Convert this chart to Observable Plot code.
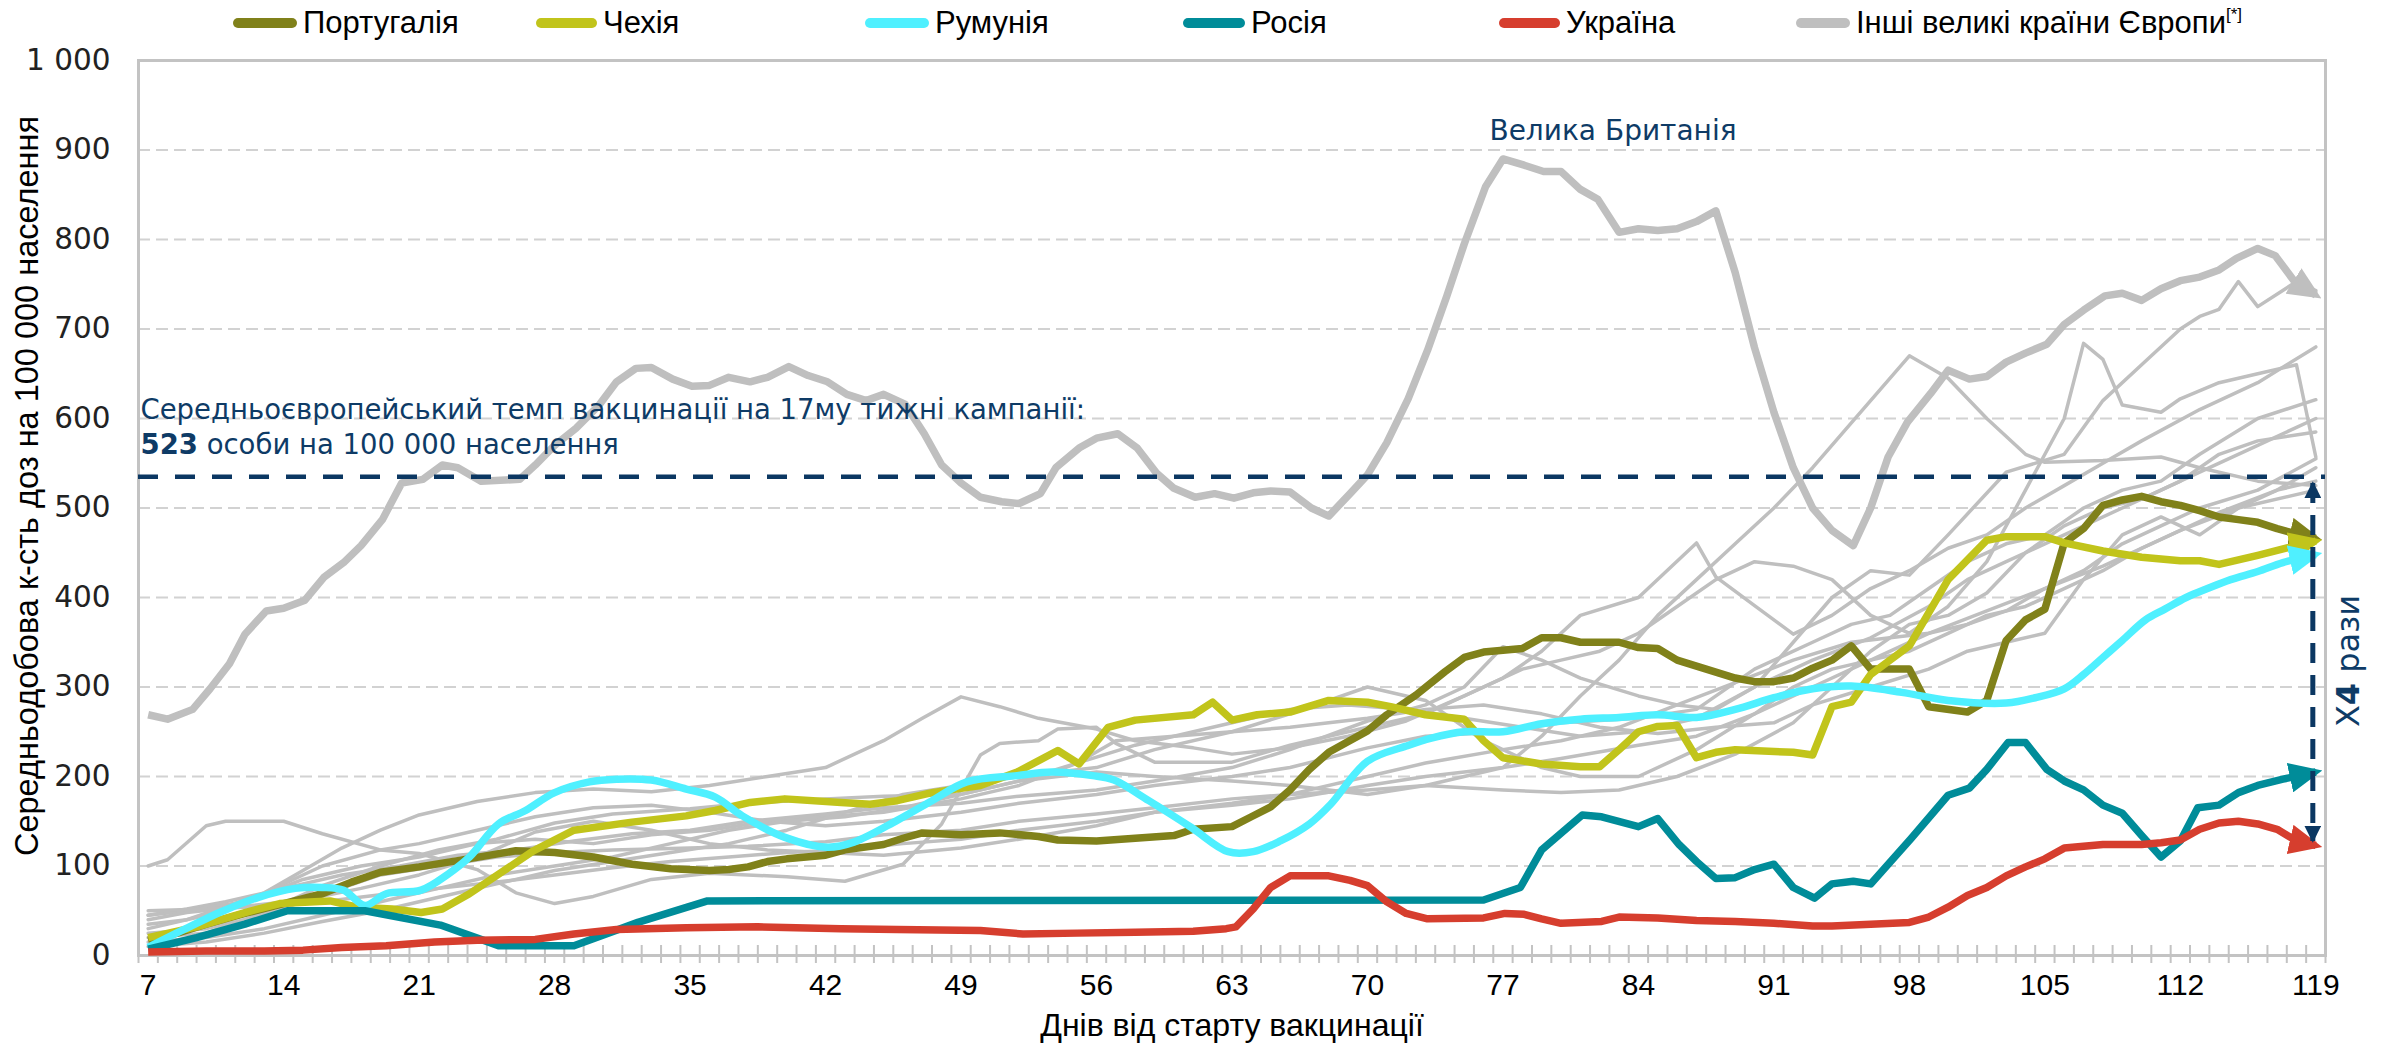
<!DOCTYPE html>
<html><head><meta charset="utf-8">
<script src="https://cdn.jsdelivr.net/npm/d3@7"></script>
<script src="https://cdn.jsdelivr.net/npm/@observablehq/plot@0.6"></script>
<style>
body{margin:0;background:#fff;}
#legend{position:relative;height:46px;width:2387px;font-family:"Liberation Sans",Arial,sans-serif;font-size:31px;color:#000;}
.item{position:absolute;top:0;height:46px;display:flex;align-items:center;white-space:nowrap;}
.sw{display:inline-block;height:10px;border-radius:5px;margin-right:6px;}
sup{font-size:0.55em;vertical-align:0.75em;}
#chart svg{display:block;}
</style></head><body>
<div id="legend"></div>
<div id="chart"></div>
<script>
// ---------- data (day, doses per 100k, 7-day average) ----------
const portugal = [[7,17],[8.5,25],[10,35],[12,47],[14,58],[16,69],[17.5,82],[19,93],[21,99],[23,106],[26,117],[28,115],[30,110],[32,102],[34,97],[36,95],[37,96],[38,99],[39,105],[40,108],[42,112],[43,118],[45,124],[46,131],[47,137],[49,135],[51,137],[53,133],[54,129],[56,128],[58,131],[60,134],[61,141],[63,144],[64,155],[65,166],[66,185],[67,208],[68,227],[70,251],[71,269],[72.5,291],[74,317],[75,333],[76,339],[78,343],[79,355],[80,355],[81,350],[83,350],[84,344],[85,343],[86,330],[87.5,320],[89,310],[90,306],[91,306],[92,310],[93,321],[94,330],[95,346],[96,320],[98,320],[99,278],[101,272],[102,285],[103,352],[104,375],[105,387],[106,461],[107,477],[108,503],[109,509],[110,513],[111,507],[112,503],[113,497],[114,490],[115,487],[116,484],[117,477],[118,471],[119,466]];
const czechia = [[7,20],[9.5,32],[12,48],[13.8,58],[15.6,60],[16.4,61],[17.8,54],[19.6,52],[21.1,48],[22.2,52],[23.6,69],[25.4,95],[26.9,117],[29,140],[32,149],[34.8,156],[36.3,162],[38.1,171],[39.9,175],[42.8,171],[44.3,169],[45.7,173],[47.5,182],[50,190],[51.9,205],[54,229],[55.1,214],[56.6,255],[58,263],[61,269],[62,283],[63,263],[64.3,269],[66,272],[68,285],[70,283],[71.2,278],[73,269],[75,264],[76,240],[77,221],[79,214],[81,211],[82,211],[83,230],[84,250],[85,256],[86,257],[87,221],[88,227],[89,230],[92,227],[93,224],[94,278],[95,283],[96,314],[98,346],[100,420],[101,442],[102,464],[103,468],[105,468],[106,461],[108,452],[110,445],[112,441],[113,441],[114,437],[116,447],[118,458],[119,463]];
const romania = [[7,9],[8.75,28],[10.9,50],[12.7,65],[14.6,75],[16,76],[17.1,73],[18.2,56],[19.3,69],[21.1,73],[22.5,91],[23.6,110],[25.1,147],[26.5,162],[28,182],[29.8,194],[31.2,197],[33,196],[34.8,186],[36.3,177],[37.7,156],[39.9,132],[42.1,121],[43.5,127],[45.7,151],[47.5,173],[49.3,194],[51.9,201],[53.7,205],[55.8,201],[56.9,196],[58.7,173],[60.9,143],[62.8,116],[64.1,116],[65.5,128],[67,147],[68.1,169],[70,217],[72,234],[73.3,243],[75,250],[77,250],[79,259],[81,264],[83,266],[85,269],[87,266],[89,275],[91,288],[93,298],[95,301],[97.6,294],[100,285],[103,282],[104.5,288],[106,298],[107,314],[108,333],[109,352],[110.2,375],[111.2,387],[112.3,400],[113.4,410],[114.6,420],[116,429],[117.3,439],[119,448]];
const russia = [[7,7],[9.5,20],[12,35],[14.2,50],[18.2,50],[22.1,34],[25.1,11],[29,11],[32.3,37],[35.9,61],[76,62],[77.9,76],[79,118],[81.1,157],[82.1,155],[84,144],[85,153],[86.1,124],[87,105],[88,86],[89,87],[90,96],[91,102],[92,76],[93.1,64],[94,80],[95.1,83],[96,80],[98.1,131],[100,179],[101.1,187],[102,208],[103.1,238],[104,238],[105.1,208],[106,195],[107,185],[108,168],[109,159],[110,134],[111,110],[112,128],[112.9,165],[114,168],[115,182],[116,190],[117.3,197],[119,205]];
const ukraine = [[7,4],[10,5],[13,5],[15,6],[17,9],[19.3,11],[21.8,15],[24,17],[27,18],[29,24],[31.2,29],[34.8,31],[38.5,32],[42.8,30],[45.7,29],[50,28],[52.2,24],[55,25],[58,26],[61,27],[62.7,30],[63.2,32],[64.1,52],[65,76],[66,89],[68,89],[69.1,84],[70,78],[71,60],[72,47],[73.1,41],[76,42],[77.1,47],[78.1,46],[79,41],[80,36],[82.1,38],[83,43],[85,42],[87,39],[89,38],[91,36],[93,33],[94,33],[96,35],[98,37],[99,43],[100,54],[101,67],[102,76],[103,89],[104,99],[105,108],[106,120],[108,124],[110,124],[111,126],[112,129],[113,141],[114,148],[115,150],[116,147],[117,141],[118,128],[119,123]];
const greatBritain = [[7,269],[8,264],[9.3,275],[10.2,298],[11.2,326],[12,359],[13.1,385],[14,388],[15.1,397],[16.1,423],[17.1,439],[18,458],[19.1,487],[20.1,528],[21.2,532],[22.2,548],[23,545],[24.2,530],[26.2,532],[27,548],[28,570],[29.1,589],[30.3,615],[31.2,641],[32.2,656],[33,657],[34.1,644],[35.1,636],[36,637],[37,646],[38.1,641],[39,646],[40.1,658],[41.1,648],[42.1,641],[43.1,627],[44.1,620],[45,627],[46.1,616],[47.1,583],[48,548],[49,528],[50,512],[51.1,507],[52,505],[53.1,516],[53.9,545],[55.1,567],[56,578],[57.1,583],[58.1,567],[59.1,539],[60,522],[61.1,512],[62.1,516],[63.1,511],[64.1,517],[65,519],[66,518],[67.1,500],[68,491],[69.1,516],[70,537],[71,573],[72.1,622],[73.1,676],[74.1,737],[75,795],[76.1,859],[77,890],[78.1,883],[79.1,876],[80,876],[81,856],[81.9,845],[83,808],[84,812],[85,810],[86,812],[87,820],[88,832],[89,763],[90,679],[91,607],[92,545],[93,500],[94,475],[95.1,458],[96,500],[96.9,557],[97.9,596],[99.1,628],[100,654],[101.1,644],[102,647],[103,663],[104,673],[105.1,683],[106,705],[107,721],[108.1,737],[109,740],[110,732],[111,745],[112,754],[113,758],[114,766],[114.9,779],[116,790],[116.9,782],[117.9,753],[119,738]];
// other large European countries (thin grey)
const otherA = [[7,45],[9,52],[11,60],[13,70],[15,95],[17,120],[19,140],[21,157],[24,172],[27,182],[30,186],[33,183],[36,190],[39,200],[42,210],[45,240],[47,265],[49,289],[51,278],[53,265],[56,253],[58,240],[61,232],[63,225],[66,232],[69,245],[72,262],[75,290],[77,310],[79,340],[81,380],[84,400],[87,461],[88,423],[90,391],[92,359],[94,380],[96,410],[98,430],[100,455],[102,470],[104,500],[106,525],[108,550],[110,575],[113,610],[116,640],[119,680]];
const otherB = [[7,20],[10,25],[13,48],[16,78],[19,100],[22,118],[25,130],[28,148],[31,158],[35,164],[38,170],[42,175],[45,178],[49,180],[52,195],[56,205],[59,200],[63,195],[66,190],[70,180],[73,190],[77,210],[79,245],[81,290],[83,330],[85,380],[87,420],[89,460],[91,500],[93,545],[95,595],[98,670],[100,645],[102,600],[104,560],[105,551],[108,553],[111,557],[113,545],[116,530],[119,525]];
const otherC = [[7,100],[8,107],[10,145],[11,150],[14,150],[16,136],[19,118],[21,114],[24,96],[26,70],[28,58],[30,66],[33,85],[36,92],[40,88],[43,83],[46,102],[48,147],[50,224],[51,237],[53,240],[54,253],[56,255],[57,237],[59,216],[63,216],[66,235],[70,255],[73,270],[76,300],[78,320],[80,330],[82,340],[84,360],[86,390],[88,420],[90,440],[92,435],[94,420],[96,380],[98,360],[100,390],[102,440],[104,520],[106,600],[107,684],[108,666],[109,615],[111,607],[112,622],[114,640],[116,650],[118,660],[119,557]];
const otherD = [[7,35],[9,40],[12,62],[14,75],[17,90],[20,100],[23,112],[26,118],[29,128],[32,136],[35,140],[38,150],[42,158],[45,165],[49,170],[52,178],[56,185],[59,195],[63,210],[66,230],[70,262],[73,280],[75,300],[77,345],[79,330],[81,310],[84,290],[86,280],[88,275],[90,300],[92,350],[94,400],[96,430],[98,425],[100,470],[103,540],[106,560],[108,620],[110,660],[112,700],[113,714],[114,722],[115,753],[116,725],[118,753],[119,743]];
const otherE = [[7,30],[10,45],[13,70],[16,100],[19,118],[21,125],[24,140],[27,155],[30,165],[33,168],[36,160],[39,150],[42,145],[45,150],[49,160],[52,170],[56,180],[59,190],[63,200],[66,210],[70,232],[73,245],[77,250],[80,260],[84,265],[87,275],[90,320],[93,350],[95,370],[97,380],[99,410],[101,440],[103,460],[105,470],[107,500],[109,520],[111,530],[113,560],[116,600],[119,621]];
const otherF = [[7,25],[10,30],[13,45],[16,68],[19,90],[22,100],[25,110],[28,115],[31,118],[35,120],[38,122],[42,127],[45,135],[49,140],[52,150],[56,158],[59,165],[63,175],[66,180],[70,185],[73,190],[77,185],[80,182],[83,185],[86,200],[89,225],[92,260],[94,300],[96,340],[98,370],[100,380],[102,405],[104,450],[106,480],[108,500],[110,510],[112,530],[114,560],[116,575],[119,585]];
const otherG = [[7,45],[9,50],[12,60],[15,85],[18,100],[21,110],[24,125],[27,130],[30,125],[33,135],[36,140],[39,150],[42,155],[45,160],[49,175],[52,190],[55,215],[57,240],[60,245],[63,250],[66,255],[70,265],[73,275],[76,280],[79,270],[82,255],[85,248],[88,255],[91,260],[93,280],[96,300],[99,320],[101,340],[103,350],[105,360],[107,420],[109,470],[111,490],[113,470],[115,500],[117,520],[119,530]];
const otherH = [[7,40],[9,48],[12,55],[15,62],[18,75],[21,90],[24,110],[27,138],[30,150],[33,140],[36,125],[39,118],[42,115],[45,112],[49,120],[52,130],[56,145],[59,160],[63,170],[66,180],[70,200],[73,215],[77,230],[80,240],[83,255],[86,280],[89,305],[92,330],[95,350],[97,355],[99,360],[101,370],[103,385],[105,410],[107,430],[109,460],[111,480],[113,500],[116,520],[119,555]];
const otherI = [[7,15],[10,20],[13,30],[16,45],[19,60],[22,75],[25,90],[28,100],[31,110],[34,125],[37,140],[40,150],[43,155],[46,165],[49,180],[52,195],[55,215],[58,235],[61,250],[63,260],[66,275],[69,280],[72,275],[75,265],[78,255],[81,245],[84,250],[87,265],[90,300],[93,330],[96,355],[99,390],[101,420],[103,440],[105,460],[107,480],[109,500],[111,520],[113,540],[116,570],[119,600]];
const otherJ = [[7,10],[10,15],[13,25],[16,38],[19,50],[22,65],[25,80],[28,95],[31,105],[34,115],[37,125],[40,140],[43,160],[46,180],[49,190],[52,200],[56,210],[59,230],[63,250],[66,270],[70,300],[73,285],[76,240],[79,210],[81,200],[84,200],[87,230],[90,270],[92,300],[94,320],[96,330],[98,340],[100,360],[102,380],[104,390],[106,410],[108,430],[110,455],[112,475],[115,500],[119,520]];
const otherK = [[7,50],[10,52],[13,55],[16,60],[19,68],[22,75],[25,82],[28,90],[31,98],[34,105],[37,110],[40,115],[43,118],[46,125],[49,130],[52,140],[56,150],[59,160],[63,168],[66,175],[70,190],[73,200],[77,210],[80,220],[84,235],[87,245],[90,270],[93,300],[96,330],[99,360],[102,385],[105,410],[108,435],[111,465],[114,495],[117,520],[119,545]];
const others = [otherA, otherB, otherC, otherD, otherE, otherF, otherG, otherH, otherI, otherJ, otherK];

const europeAverage = 535;            // dashed reference level
const xTicks = [7,14,21,28,35,42,49,56,63,70,77,84,91,98,105,112,119];
const yTicks = [0,100,200,300,400,500,600,700,800,900,1000];
const yTickLabels = ["0","100","200","300","400","500","600","700","800","900","1 000"];

const series = [
  {name:"Португалія", data:portugal, color:"#80811a"},
  {name:"Чехія", data:czechia, color:"#c1c41b"},
  {name:"Румунія", data:romania, color:"#4ff0ff", curve:"catmull-rom"},
  {name:"Росія", data:russia, color:"#008c99"},
  {name:"Україна", data:ukraine, color:"#d63e2e"}
];
const GREY = "#bfbfbf", NAVY = "#0b3762";

// ---------- legend ----------
const legendItems = [
  {label:"Португалія", color:"#80811a", left:233, w:64},
  {label:"Чехія", color:"#c1c41b", left:536, w:61},
  {label:"Румунія", color:"#4ff0ff", left:865, w:64},
  {label:"Росія", color:"#008c99", left:1183, w:62},
  {label:"Україна", color:"#d63e2e", left:1499, w:61},
  {label:"Інші великі країни Європи<sup>[*]</sup>", color:GREY, left:1796, w:54}
];
const lg = document.getElementById("legend");
for (const it of legendItems) {
  const d = document.createElement("div");
  d.className = "item"; d.style.left = it.left + "px";
  d.innerHTML = `<span class="sw" style="width:${it.w}px;background:${it.color}"></span><span>${it.label}</span>`;
  lg.appendChild(d);
}

// ---------- chart ----------
const last = ukraine[ukraine.length-1];
const ukPeak = d3.greatest(greatBritain, d => d[1]);
const dayBounds = d3.range(xTicks[0]-0.5, xTicks[xTicks.length-1]+0.6, 1);
const px = d => d[0], py = d => d[1];

const marks = [
  Plot.ruleY(yTicks.slice(1,-1), {stroke:"#d2d2d2", strokeWidth:2, strokeDasharray:"12,6"}),
  Plot.frame({stroke:"#c3c3c3", strokeWidth:3}),
  Plot.ruleX(dayBounds, {stroke:"#c3c3c3", strokeWidth:2, insetTop:885, insetBottom:-8}),
  ...others.map(o => Plot.line(o, {x:px, y:py, stroke:GREY, strokeWidth:3.5})),
  Plot.line(greatBritain, {x:px, y:py, stroke:GREY, strokeWidth:7.5, strokeLinecap:"butt", markerEnd:"arrow"}),
  ...series.map(s => Plot.line(s.data, {x:px, y:py, stroke:s.color, strokeWidth:7.5, strokeLinecap:"butt", curve:s.curve || "linear", markerEnd:"arrow"})),
  Plot.ruleY([europeAverage], {stroke:NAVY, strokeWidth:4.5, strokeDasharray:"20,17"}),
  Plot.link([{x:last[0], y1:europeAverage-7, y2:last[1]+5}], {x1:"x", x2:"x", y1:"y1", y2:"y2", stroke:NAVY, strokeWidth:5, strokeDasharray:"20,12", markerStart:"arrow", markerEnd:"arrow", dx:-3}),
  // tick labels
  Plot.text(xTicks, {x:d=>d, frameAnchor:"bottom", dy:39, text:d=>String(d), fontSize:30, fill:"#000", fontFamily:"Liberation Sans, Arial, sans-serif"}),
  Plot.text(yTicks, {y:d=>d, frameAnchor:"left", dx:-28, textAnchor:"end", text:(d,i)=>yTickLabels[i], fontSize:29.5, fill:"#222", fontFamily:"DejaVu Sans, sans-serif"}),
  // axis titles
  Plot.text(["Днів від старту вакцинації"], {frameAnchor:"bottom", dy:80, fontSize:32, fill:"#000", fontFamily:"Liberation Sans, Arial, sans-serif"}),
  Plot.text(["Середньодобова к-сть доз на 100 000 населення"], {frameAnchor:"left", textAnchor:"middle", dx:-111, dy:-22, rotate:-90, fontSize:32.5, fill:"#000", fontFamily:"Liberation Sans, Arial, sans-serif"}),
  // annotations
  Plot.text(["Середньоєвропейський темп вакцинації на 17му тижні кампанії:\n523 особи на 100 000 населення"], {frameAnchor:"left", y:()=>europeAverage, dx:2, dy:-23, textAnchor:"start", lineAnchor:"bottom", lineHeight:1.25, fontSize:27.5, fill:"#0e3b66", fontFamily:"DejaVu Sans, sans-serif"}),
  Plot.text([ukPeak], {x:px, y:py, text:()=>"Велика Британія", dx:110, dy:-28, fontSize:28, fill:"#0e3b66", fontFamily:"DejaVu Sans, sans-serif"}),
  Plot.text(["Х4 рази"], {frameAnchor:"right", textAnchor:"middle", y:()=>(europeAverage+last[1])/2, dx:23, rotate:-90, fontSize:32, fill:"#0e3b66", fontFamily:"DejaVu Sans, sans-serif"})
];

const chart = Plot.plot({
  width:2387, height:1005,
  marginLeft:138, marginRight:62, marginTop:14, marginBottom:96,
  x:{domain:[xTicks[0]-0.5, xTicks[xTicks.length-1]+0.5], axis:null},
  y:{domain:[0,1000], axis:null},
  style:{background:"#fff", fontFamily:"Liberation Sans, Arial, sans-serif", fontSize:"30px", overflow:"visible"},
  marks
});
document.getElementById("chart").appendChild(chart);

// filled arrowheads (Excel style)
const SVGNS = "http://www.w3.org/2000/svg";
chart.querySelectorAll("marker").forEach(m => {
  const color = m.getAttribute("stroke");
  const small = color === NAVY;
  while (m.firstChild) m.removeChild(m.firstChild);
  m.setAttribute("viewBox", "0 -5 10 10");
  m.setAttribute("refX", small ? 9 : 8);
  m.setAttribute("refY", 0);
  m.setAttribute("markerUnits", "userSpaceOnUse");
  m.setAttribute("markerWidth", small ? 17 : 33);
  m.setAttribute("markerHeight", small ? 17 : 30);
  m.setAttribute("preserveAspectRatio", "none");
  m.setAttribute("stroke", "none");
  m.setAttribute("stroke-dasharray", "none");
  m.setAttribute("fill", color);
  const p = document.createElementNS(SVGNS, "path");
  p.setAttribute("d", "M0,-5L10,0L0,5Z");
  p.setAttribute("fill", color);
  p.setAttribute("stroke", "none");
  m.appendChild(p);
});
chart.querySelectorAll("[marker-start]").forEach(el => {
  const id = (el.getAttribute("marker-start").match(/#([^)]+)\)/) || [])[1];
  const mk = id && chart.querySelector("#" + id);
  if (mk) mk.setAttribute("orient", "auto-start-reverse");
});
// bold numbers inside annotations
chart.querySelectorAll("text, tspan").forEach(t => {
  if (t.children.length) return;
  const s = t.textContent;
  if (s.startsWith("523 ")) {
    t.textContent = "";
    const b = document.createElementNS(SVGNS, "tspan"); b.setAttribute("font-weight", "bold"); b.textContent = "523";
    t.appendChild(b); t.appendChild(document.createTextNode(s.slice(3)));
  } else if (s === "Х4 рази") {
    t.textContent = "Х";
    const b = document.createElementNS(SVGNS, "tspan"); b.setAttribute("font-weight", "bold"); b.textContent = "4";
    t.appendChild(b); t.appendChild(document.createTextNode(" рази"));
  }
});
</script></body></html>
